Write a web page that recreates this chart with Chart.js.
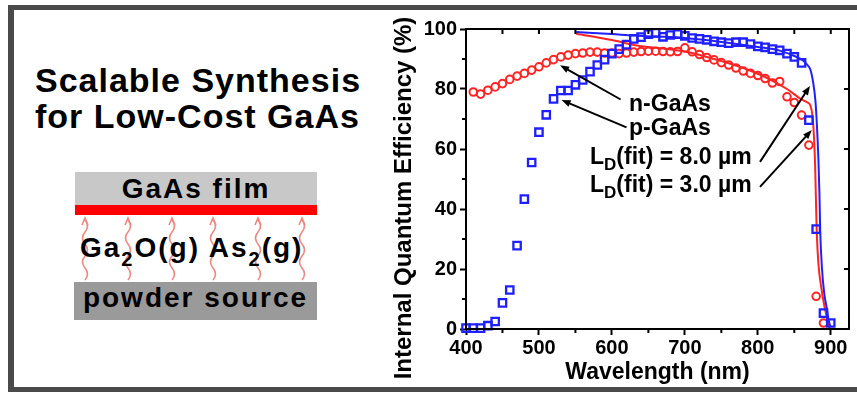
<!DOCTYPE html>
<html>
<head>
<meta charset="utf-8">
<script src="https://cdn.jsdelivr.net/npm/chart.js@4.4.1/dist/chart.umd.min.js"></script>
<style>
  html, body { margin: 0; padding: 0; background: #fff; }
  body { width: 857px; height: 393px; position: relative; overflow: hidden;
         font-family: "Liberation Sans", Arial, sans-serif; font-weight: bold; color: #000; }
  .frame { position: absolute; left: 8px; top: 5px; width: 900px; height: 387px; box-sizing: border-box;
           border-style: solid; border-color: #4a4a4a; border-width: 5px 0 5px 6px; }
  .title { position: absolute; left: 35px; top: 62px; font-size: 34px; line-height: 36px; letter-spacing: 1px; }
  .box { position: absolute; left: 75px; width: 242px; text-align: center; font-size: 28px; letter-spacing: 2px; }
  .film { top: 172px; height: 33px; line-height: 33px; background: #c8c8c8; }
  .redbar { position: absolute; left: 75px; top: 205px; width: 242px; height: 10px; background: #ff0000; }
  .source { top: 282px; height: 38px; line-height: 31px; background: #9a9a9a; left: 74px; width: 243px; }
  .gas { position: absolute; left: 80px; top: 232px; font-size: 28px; line-height: 32px; letter-spacing: 2px; white-space: nowrap; }
  .gas span { font-size: 20px; position: relative; top: 9px; }
  svg.waves { position: absolute; left: 0; top: 0; }
  #wrap { position: absolute; left: 385px; top: 10px; width: 472px; height: 377px; }
</style>
</head>
<body>
<div class="frame"></div>
<div class="title">Scalable Synthesis<br>for Low-Cost GaAs</div>
<div class="box film">GaAs film</div>
<div class="redbar"></div>
<svg class="waves" width="390" height="393" fill="none" stroke="#ec8a82" stroke-width="1.6">
  <path d="M85 280 q5 -6 0 -12 t0 -12 t0 -12 t0 -12 t0 -12 M82 225 L85 218 L88 225"/>
  <path d="M128 280 q5 -6 0 -12 t0 -12 t0 -12 t0 -12 t0 -12 M125 225 L128 218 L131 225"/>
  <path d="M172 280 q5 -6 0 -12 t0 -12 t0 -12 t0 -12 t0 -12 M169 225 L172 218 L175 225"/>
  <path d="M213 280 q5 -6 0 -12 t0 -12 t0 -12 t0 -12 t0 -12 M210 225 L213 218 L216 225"/>
  <path d="M258 280 q5 -6 0 -12 t0 -12 t0 -12 t0 -12 t0 -12 M255 225 L258 218 L261 225"/>
  <path d="M302 280 q5 -6 0 -12 t0 -12 t0 -12 t0 -12 t0 -12 M299 225 L302 218 L305 225"/>
</svg>
<div class="gas">Ga<span>2</span>O(g) As<span>2</span>(g)</div>
<div class="box source">powder source</div>
<div id="wrap"><canvas id="iqeChart"></canvas></div>
<script>
// p-GaAs (blue squares)
const wavelengthP = [400, 410, 420, 430, 440, 450, 460, 470, 480, 490, 500, 510, 520, 530, 540, 550, 560,
  570, 580, 590, 600, 610, 620, 630, 640, 650, 660, 670, 680, 690, 700, 710, 720, 730, 740, 750, 760,
  770, 780, 790, 800, 810, 820, 830, 840, 850, 860, 870, 880, 890, 900];
const iqeP = [0.3, 0.3, 0.3, 1.1, 2.5, 8.7, 13.0, 27.8, 43.3, 55.5, 65.6, 71.4, 76.7, 79.5, 79.5, 81.4, 83.0,
  85.8, 88.0, 89.8, 91.8, 93.3, 94.8, 96.7, 97.3, 98.3, 98.7, 97.4, 98.0, 98.3, 97.7, 97.0, 96.7, 96.4, 95.9, 95.6, 95.3,
  95.6, 95.6, 95.0, 94.2, 93.9, 93.3, 92.9, 91.8, 90.7, 88.7, 69.6, 33.3, 5.3, 2.0];

// n-GaAs (red circles)
const wavelengthN = [410, 420, 430, 440, 450, 460, 470, 480, 490, 500, 510, 520, 530, 540, 550, 560, 570,
  580, 590, 600, 610, 620, 630, 640, 650, 660, 670, 680, 690, 700, 710, 720, 730, 740, 750, 760, 770,
  780, 790, 800, 810, 820, 830, 840, 850, 860, 870, 880, 890];
const iqeN = [79.0, 78.3, 79.6, 80.7, 81.8, 83.2, 84.3, 85.2, 86.3, 87.4, 88.7, 89.8, 90.7, 91.3, 91.8, 92.0, 92.3,
  92.3, 92.0, 92.0, 91.8, 92.0, 92.3, 92.5, 92.6, 92.6, 92.5, 92.4, 92.5, 93.7, 92.4, 91.5, 90.5, 89.7, 88.8, 88.0, 87.0,
  86.0, 85.2, 84.5, 83.5, 82.0, 82.5, 77.4, 75.5, 71.3, 61.3, 10.9, 2.0];

// fits, L_D = 8.0 um (blue) and 3.0 um (red)
const fitWavelength8 = [551, 600, 630, 660, 700, 750, 800, 830, 850, 862, 868, 872, 876, 879, 881, 883, 884.5,
  885.5, 888, 891, 894.5, 897, 899.5];
const fitIqe8 = [99.0, 98.3, 97.8, 97.5, 97.0, 95.7, 94.0, 92.8, 91.0, 89.5, 88.0, 86.5, 82.0, 76.0, 68.0, 57.0, 45.0,
  33.0, 20.0, 12.0, 7.0, 3.0, 0.8];
const fitWavelength3 = [551, 600, 634, 670, 700, 740, 780, 810, 840, 860, 868, 872, 875, 877, 878.5, 879.5, 880.7,
  883, 887.5, 891, 894.5, 899];
const fitIqe3 = [98.4, 96.3, 94.5, 93.5, 92.5, 90.0, 87.0, 84.0, 80.0, 76.5, 75.5, 74.5, 71.0, 64.0, 55.0, 45.0, 33.0,
  22.0, 13.0, 8.0, 4.0, 0.0];

const xTickLabels = [400, 500, 600, 700, 800, 900];
const yTickLabels = [0, 20, 40, 60, 80, 100];

const toPoints = (xs, ys) => xs.map((x, i) => ({ x: x, y: ys[i] }));

// annotation texts with arrows (positions in data units)
const notes = [
  { parts: [['n-GaAs', 0]], at: [623.5, 72.8], tail: [612, 76.5], head: [529, 87.9] },
  { parts: [['p-GaAs', 0]], at: [623.5, 64.8], tail: [620, 67.2], head: [531, 76.3] },
  { parts: [['L', 0], ['D', 1], ['(fit) = 8.0 \u00b5m', 0]], at: [570, 54.9], tail: [803, 55.7], head: [871.5, 81] },
  { parts: [['L', 0], ['D', 1], ['(fit) = 3.0 \u00b5m', 0]], at: [570, 45.6], tail: [803, 47.4], head: [874, 66.3] }
];

const FONT = '"Liberation Sans", Arial, sans-serif';
Chart.defaults.font.family = FONT;
Chart.defaults.color = '#000';

const decorPlugin = {
  id: 'decor',
  afterDatasetsDraw(chart) {
    const { ctx, chartArea: a, scales: { x, y } } = chart;
    ctx.save();
    ctx.strokeStyle = '#000';
    ctx.lineWidth = 2;
    ctx.strokeRect(a.left, a.top, a.right - a.left, a.bottom - a.top);

    // minor ticks (outward) and mirror ticks (inward)
    ctx.beginPath();
    x.ticks.forEach(t => {
      const px = x.getPixelForValue(t.value);
      ctx.moveTo(px, a.top);
      ctx.lineTo(px, a.top + 5);
      if (!xTickLabels.includes(t.value)) {
        ctx.moveTo(px, a.bottom);
        ctx.lineTo(px, a.bottom + 4);
      }
    });
    y.ticks.forEach(t => {
      const py = y.getPixelForValue(t.value);
      if (yTickLabels.includes(t.value)) {
        ctx.moveTo(a.right, py);
        ctx.lineTo(a.right - 5, py);
      } else {
        ctx.moveTo(a.left, py);
        ctx.lineTo(a.left - 4, py);
      }
    });
    ctx.stroke();

    // arrows + labels
    ctx.fillStyle = '#000';
    ctx.lineWidth = 2;
    notes.forEach(n => {
      const x0 = x.getPixelForValue(n.tail[0]), y0 = y.getPixelForValue(n.tail[1]);
      const x1 = x.getPixelForValue(n.head[0]), y1 = y.getPixelForValue(n.head[1]);
      const ang = Math.atan2(y1 - y0, x1 - x0);
      const hl = 9, hw = 3.5;
      ctx.beginPath();
      ctx.moveTo(x0, y0);
      ctx.lineTo(x1 - Math.cos(ang) * hl * 0.8, y1 - Math.sin(ang) * hl * 0.8);
      ctx.stroke();
      ctx.beginPath();
      ctx.moveTo(x1, y1);
      ctx.lineTo(x1 - Math.cos(ang) * hl - Math.sin(ang) * hw, y1 - Math.sin(ang) * hl + Math.cos(ang) * hw);
      ctx.lineTo(x1 - Math.cos(ang) * hl + Math.sin(ang) * hw, y1 - Math.sin(ang) * hl - Math.cos(ang) * hw);
      ctx.closePath();
      ctx.fill();

      let tx = x.getPixelForValue(n.at[0]);
      const ty = y.getPixelForValue(n.at[1]);
      ctx.textBaseline = 'alphabetic';
      ctx.textAlign = 'left';
      n.parts.forEach(([s, sub]) => {
        ctx.font = sub ? 'bold 17px ' + FONT : 'bold 23px ' + FONT;
        ctx.fillText(s, tx, ty + (sub ? 6 : 0));
        tx += ctx.measureText(s).width;
      });
    });

    // y axis title
    ctx.translate(19, 188);
    ctx.rotate(-Math.PI / 2);
    ctx.font = 'bold 24px ' + FONT;
    ctx.textAlign = 'center';
    ctx.textBaseline = 'middle';
    ctx.fillText('Internal Quantum Efficiency (%)', 0, 0);
    ctx.restore();
  }
};

new Chart(document.getElementById('iqeChart'), {
  type: 'scatter',
  data: {
    datasets: [
      {
        label: 'p-GaAs',
        data: toPoints(wavelengthP, iqeP),
        pointStyle: 'rect',
        pointRadius: 5.2,
        borderWidth: 2.3,
        borderColor: '#2020ff',
        backgroundColor: 'rgba(0,0,0,0)',
        clip: false,
        order: 1
      },
      {
        label: 'n-GaAs',
        data: toPoints(wavelengthN, iqeN),
        pointStyle: 'circle',
        pointRadius: 3.8,
        borderWidth: 2,
        borderColor: '#ff2424',
        backgroundColor: 'rgba(0,0,0,0)',
        clip: false,
        order: 2
      },
      {
        label: 'LD(fit) = 8.0 \u00b5m',
        data: toPoints(fitWavelength8, fitIqe8),
        showLine: true,
        pointRadius: 0,
        borderWidth: 2,
        borderColor: '#2020ff',
        cubicInterpolationMode: 'monotone',
        clip: false,
        order: 3
      },
      {
        label: 'LD(fit) = 3.0 \u00b5m',
        data: toPoints(fitWavelength3, fitIqe3),
        showLine: true,
        pointRadius: 0,
        borderWidth: 2,
        borderColor: '#ff2424',
        cubicInterpolationMode: 'monotone',
        clip: false,
        order: 4
      }
    ]
  },
  options: {
    responsive: true,
    maintainAspectRatio: false,
    devicePixelRatio: 1,
    animation: false,
    layout: { padding: { left: 0, top: 19, right: 8, bottom: 0 } },
    plugins: { legend: { display: false }, tooltip: { enabled: false } },
    scales: {
      x: {
        type: 'linear',
        min: 400,
        max: 925,
        afterFit: s => { s.height = 58; },
        ticks: {
          stepSize: 50,
          includeBounds: false,
          autoSkip: false,
          maxRotation: 0,
          padding: 1,
          font: { size: 20, weight: 'bold' },
          callback: v => xTickLabels.includes(v) ? v : ''
        },
        grid: {
          drawOnChartArea: false,
          tickLength: 6,
          tickWidth: 2,
          tickColor: c => xTickLabels.includes(c.tick && c.tick.value) ? '#000' : 'rgba(0,0,0,0)'
        },
        border: { display: true, color: '#000', width: 2 },
        title: {
          display: true,
          text: 'Wavelength (nm)',
          font: { size: 23, weight: 'bold' },
          padding: { top: 0, bottom: 1 }
        }
      },
      y: {
        min: 0,
        max: 100,
        afterFit: s => { s.width = 81; },
        ticks: {
          stepSize: 10,
          padding: 3,
          font: { size: 20, weight: 'bold' },
          callback: v => yTickLabels.includes(v) ? v : ''
        },
        grid: {
          drawOnChartArea: false,
          tickLength: 6,
          tickWidth: 2,
          tickColor: c => yTickLabels.includes(c.tick && c.tick.value) ? '#000' : 'rgba(0,0,0,0)'
        },
        border: { display: true, color: '#000', width: 2 }
      }
    }
  },
  plugins: [decorPlugin]
});
</script>
</body>
</html>
